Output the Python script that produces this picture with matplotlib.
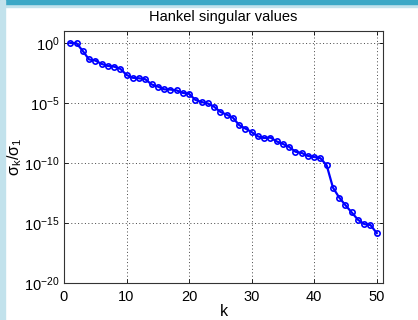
"""Hankel singular values, normalised by the largest one"""

import numpy as np
import matplotlib
matplotlib.use("Agg")
import matplotlib.pyplot as plt
from matplotlib.patches import Rectangle
from matplotlib.ticker import FixedLocator, LogFormatterMathtext, NullLocator

plt.rcParams['font.family'] = ['Liberation Sans', 'DejaVu Sans']
plt.rcParams['mathtext.fontset'] = 'custom'
plt.rcParams['mathtext.rm'] = 'Liberation Sans'
plt.rcParams['mathtext.it'] = 'Liberation Sans'
plt.rcParams['mathtext.default'] = 'regular'

# data: k and log10(sigma_k / sigma_1)
k = list(range(1, 51))
log_ratio = [0.0, -0.02, -0.66, -1.37, -1.46, -1.74, -1.91, -1.97, -2.15, -2.66,
             -2.90, -2.94, -3.02, -3.45, -3.63, -3.86, -3.88, -3.95, -4.16, -4.24,
             -4.74, -4.92, -5.04, -5.31, -5.74, -5.97, -6.22, -6.84, -7.13, -7.42,
             -7.78, -7.92, -7.88, -8.20, -8.41, -8.66, -9.06, -9.16, -9.41, -9.50,
             -9.60, -10.20, -12.05, -12.88, -13.52, -14.12, -14.73, -15.09, -15.17, -15.84]
ratio = 10.0 ** np.array(log_ratio)
x_ticks = [0, 10, 20, 30, 40, 50]
y_ticks = [1e-20, 1e-15, 1e-10, 1e-5, 1e0]

fig = plt.figure(figsize=(4.18, 3.2), dpi=100)

# window frame strips (top and left)
fig.patches.append(Rectangle((0, 1 - 7 / 320), 1, 7 / 320, transform=fig.transFigure,
                             color='#c2e2ec', zorder=0))
fig.patches.append(Rectangle((0, 1 - 3.5 / 320), 1, 3.5 / 320, transform=fig.transFigure,
                             color='#3ca8c6', zorder=0))
fig.patches.append(Rectangle((0, 0), 5 / 418, 1, transform=fig.transFigure,
                             color='#c2e2ec', zorder=0))

ax = fig.add_axes([64 / 418, 1 - 283 / 320, (383 - 64) / 418, (283 - 31) / 320])
ax.semilogy(k, ratio, color='blue', linewidth=1.6, marker='o', markersize=3.8,
            markerfacecolor='none', markeredgecolor='blue', markeredgewidth=1.2)

# limits and ticks
ax.set_xlim(0, 51)
ax.set_ylim(1e-20, 1e1)
ax.xaxis.set_major_locator(FixedLocator(x_ticks))
ax.yaxis.set_major_locator(FixedLocator(y_ticks))
ax.yaxis.set_major_formatter(LogFormatterMathtext())
ax.yaxis.set_minor_locator(NullLocator())
ax.tick_params(direction='in', top=True, right=True, length=3, width=0.6,
               labelsize=10.5, colors='black')
ax.tick_params(axis='x', pad=5)
ax.tick_params(axis='y', pad=3)
ax.grid(True, linestyle=(0, (1, 2.5)), color='#444444', linewidth=0.7)
for side in ax.spines.values():
    side.set_linewidth(0.8)
    side.set_color('#333333')

# labels and title
ax.set_xlabel("k", fontsize=11.5, labelpad=0)
ax.set_ylabel(r"$\sigma_k/\sigma_1$", fontsize=11.5)
ax.yaxis.set_label_coords(-0.125, 0.5)
ax.set_title("Hankel singular values", fontsize=10.5, pad=7)

fig.savefig("out.png", dpi=100)
